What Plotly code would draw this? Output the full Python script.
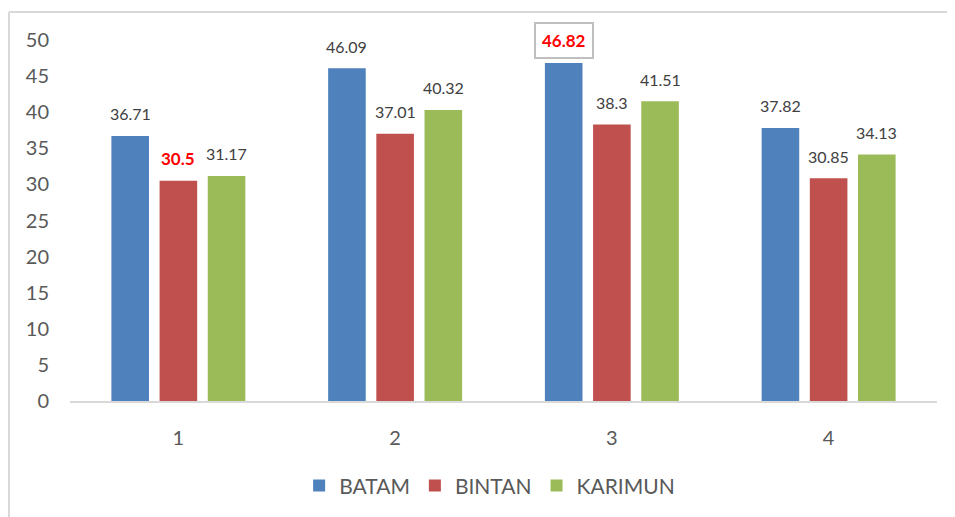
import plotly.graph_objects as go

categories = [1, 2, 3, 4]
batam = [36.71, 46.09, 46.82, 37.82]
bintan = [30.5, 37.01, 38.3, 30.85]
karimun = [31.17, 40.32, 41.51, 34.13]

series = [("BATAM", batam, "#4F81BD"), ("BINTAN", bintan, "#C0504D"), ("KARIMUN", karimun, "#9BBB59")]

font_family = "Lato, 'Open Sans', sans-serif"
bargap = 0.333
slot = (1 - bargap) / 3

all_vals = batam + bintan + karimun
lo, hi = min(all_vals), max(all_vals)

fig = go.Figure()
annotations = []
for i, (name, vals, color) in enumerate(series):
    fig.add_trace(go.Bar(x=categories, y=vals, name=name, marker_color=color,
                         marker_line_width=0))
    off = (i - 1) * slot
    for c, v in zip(categories, vals):
        a = dict(x=c + off, y=v, xref="x", yref="y", text=str(v), showarrow=False,
                 yanchor="middle", yshift=22,
                 font=dict(family=font_family, size=16, color="#404040"))
        if v == lo or v == hi:
            a["text"] = "<b>%s</b>" % v
            a["font"] = dict(family=font_family, size=17, color="#FF0000")
        if v == hi:
            a["bordercolor"] = "#BFBFBF"
            a["borderwidth"] = 2
            a["borderpad"] = 6
            a["bgcolor"] = "white"
        annotations.append(a)

# page body adds an 8px offset, margins compensate
bx = (1 - 62) / 867
by = 1 + (32 - 4) / 361
border = dict(color="#D9D9D9", width=2)
fig.update_layout(
    width=947, height=509,
    margin=dict(l=62, r=18, t=32, b=116, autoexpand=False),
    paper_bgcolor="white", plot_bgcolor="white",
    barmode="group", bargap=bargap, bargroupgap=0.22,
    font=dict(family=font_family, color="#595959"),
    annotations=annotations,
    legend=dict(orientation="h", x=0.484, xanchor="center",
                y=-0.235, yanchor="middle", font=dict(size=21, color="#595959")),
    shapes=[
        dict(type="line", xref="paper", yref="paper", x0=bx, x1=1.5, y0=by, y1=by, line=border),
        dict(type="line", xref="paper", yref="paper", x0=bx, x1=bx, y0=-0.6, y1=by, line=border),
    ],
)
fig.update_xaxes(range=[0.5, 4.5], tickvals=categories, ticktext=[str(c) for c in categories],
                 showgrid=False, zeroline=False, showline=True, linecolor="#D9D9D9", linewidth=2,
                 tickfont=dict(size=20, color="#595959"), ticklabelstandoff=18)
fig.update_yaxes(range=[0, 50], dtick=5, showgrid=False, zeroline=False, showline=False,
                 tickfont=dict(size=20, color="#595959"), ticklabelstandoff=20)

fig.write_html("out.html")
